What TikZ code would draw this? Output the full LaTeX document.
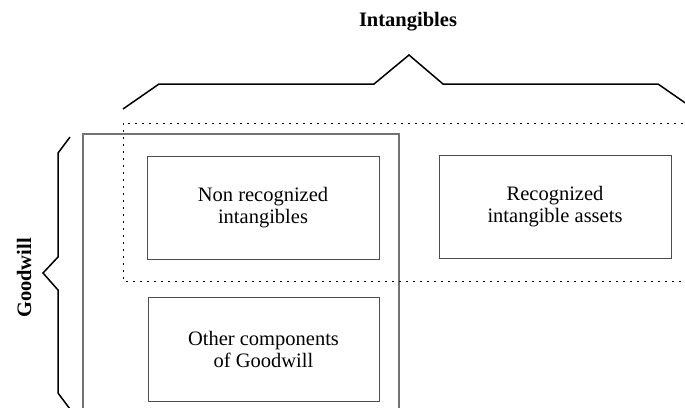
\documentclass[tikz,border=0pt]{standalone}
\usepackage{fontspec}
\setmainfont{Liberation Serif}
\begin{document}
\begin{tikzpicture}[x=1pt,y=-1pt,
  box/.style={draw=black!70,line width=0.9pt,rectangle,minimum width=232pt,minimum height=103pt,
    align=center,inner sep=0pt,font=\fontsize{20.5}{22}\selectfont},
  brace/.style={draw=black,line width=1.5pt,line join=miter},
  frame/.style={draw=black!55,line width=1.3pt},
  dots/.style={draw=black,line width=1pt,dash pattern=on 2pt off 5pt},
  title/.style={font=\fontsize{20.5}{22}\selectfont\bfseries,inner sep=0pt}]
\useasboundingbox (0,0) rectangle (685,407);
\clip (0,0) rectangle (685,407);
% Goodwill frame
\draw[frame] (83,412) -- (83,134) -- (399,134) -- (399,412);
% dotted intangibles region
\draw[dots] (690,123) -- (123,123) -- (123,281) -- (690,281);
% boxes
\node[box] (nonrec) at (263,207.5) {Non recognized\\intangibles};
\node[box] (rec) at (555,206.5) {Recognized\\intangible assets};
\node[box,minimum width=231pt,minimum height=104pt] (other) at (263.5,349) {Other components\\of Goodwill};
% top brace
\draw[brace] (123,109) -- (159,84) -- (374,84) -- (409,55) -- (443,84) -- (658,84) -- (694,109);
% left brace
\draw[brace] (70,137) -- (58,153) -- (58,257) -- (43,273) -- (58,290) -- (58,393) -- (70,409);
% titles
\node[title] (intang) at (408,22) {Intangibles};
\node[title,rotate=90] (goodw) at (24,278) {Goodwill};
\end{tikzpicture}
\end{document}
